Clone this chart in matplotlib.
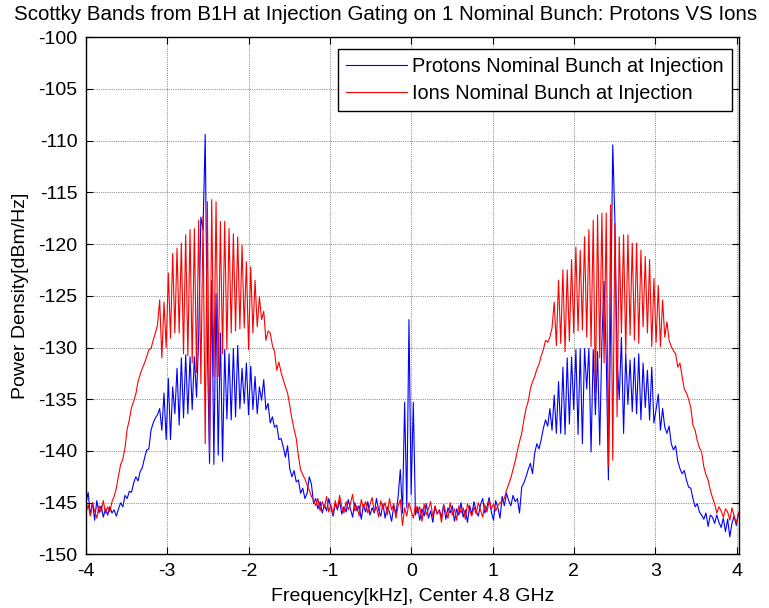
import numpy as np
import matplotlib
matplotlib.use("Agg")
import matplotlib.pyplot as plt

plt.rcParams['font.family'] = ['Liberation Sans', 'DejaVu Sans']
plt.rcParams['axes.unicode_minus'] = False

# spectrum bins, kHz offset from the 4.8 GHz centre
f_start, f_stop, n_bins = -4.0, 4.05, 303
freq_khz = np.linspace(f_start, f_stop, n_bins)

# power density [dBm/Hz], protons, nominal bunch at injection
protons_dbm = [
    -145.1, -144.0, -146.2, -145.0, -146.7, -144.8, -146.0, -145.3, -146.4, -145.6,
    -146.2, -145.4, -146.0, -145.7, -146.3, -145.6, -145.0, -145.4, -144.3, -144.6,
    -143.9, -144.0, -143.1, -142.5, -142.9, -142.0, -141.6, -140.7, -139.9, -139.8,
    -138.0, -137.3, -136.8, -136.5, -135.9, -138.0, -134.4, -138.9, -133.0, -138.9,
    -133.8, -136.4, -132.0, -137.5, -131.0, -136.8, -130.7, -136.4, -130.9, -136.0,
    -130.9, -134.8, -129.0, -117.4, -118.6, -109.4, -129.9, -141.2, -123.5, -141.3,
    -124.8, -140.4, -128.6, -141.0, -130.2, -136.9, -130.6, -137.0, -130.1, -136.7,
    -129.8, -135.9, -132.0, -135.4, -131.5, -136.5, -131.8, -136.0, -132.8, -136.4,
    -133.8, -135.1, -133.1, -136.0, -135.4, -137.3, -136.7, -137.7, -137.5, -138.9,
    -138.8, -139.6, -140.6, -139.5, -141.7, -142.5, -141.9, -143.0, -142.8, -144.1,
    -143.6, -144.6, -144.1, -142.5, -143.2, -145.1, -144.6, -145.6, -144.9, -146.0,
    -145.2, -145.8, -144.6, -145.5, -146.3, -145.1, -145.7, -144.8, -146.1, -145.4,
    -145.9, -144.7, -145.6, -146.4, -145.0, -145.8, -145.3, -146.6, -145.2, -145.9,
    -144.9, -146.2, -145.5, -146.0, -144.6, -145.7, -146.3, -145.1, -146.5, -145.4,
    -145.9, -146.8, -145.3, -146.1, -144.4, -141.8, -146.0, -135.3, -145.5, -127.3,
    -144.2, -135.3, -146.2, -145.4, -146.7, -145.6, -146.3, -145.1, -146.5, -145.8,
    -146.9, -145.4, -146.1, -145.7, -146.4, -145.2, -146.6, -145.5, -146.0, -145.3,
    -146.8, -145.6, -146.2, -145.0, -146.4, -145.7, -146.9, -145.3, -146.1, -144.9,
    -145.8, -146.3, -145.2, -144.6, -146.0, -145.4, -144.5, -145.9, -146.7, -144.8,
    -145.5, -146.5, -144.4, -145.3, -144.1, -144.8, -145.3, -144.3, -144.9, -144.6,
    -146.0, -143.5, -143.1, -142.5, -141.8, -141.2, -142.2, -140.2, -139.3, -139.8,
    -138.9, -137.8, -137.0, -137.6, -135.9, -138.0, -134.6, -138.3, -133.3, -138.3,
    -131.9, -138.4, -131.0, -137.4, -130.9, -136.0, -130.2, -138.4, -130.1, -139.3,
    -130.1, -134.0, -130.1, -140.1, -130.2, -136.5, -130.4, -139.4, -129.3, -123.6,
    -131.0, -142.8, -128.0, -110.4, -117.7, -131.0, -135.0, -129.0, -138.3, -130.6,
    -135.5, -131.2, -136.2, -131.0, -136.4, -130.6, -137.0, -131.5, -135.8, -132.2,
    -137.0, -131.9, -137.3, -136.0, -134.5, -138.0, -135.9, -137.7, -138.3, -137.6,
    -139.3, -139.9, -139.5, -141.0, -141.7, -142.2, -141.9, -142.8, -143.5, -143.6,
    -144.6, -145.4, -145.1, -145.9, -146.2, -146.6, -146.0, -147.3, -146.2, -146.4,
    -147.0, -146.2, -146.9, -147.4, -146.5, -147.8, -146.6, -148.3, -147.0, -146.3,
    -147.2, -146.1, -145.8,
]

# power density [dBm/Hz], ions, nominal bunch at injection
ions_dbm = [
    -146.0, -145.2, -146.3, -145.0, -145.8, -146.5, -145.3, -145.9, -144.8, -146.0,
    -145.4, -145.9, -144.9, -144.4, -143.6, -142.4, -141.3, -140.8, -139.7, -137.9,
    -137.0, -135.8, -135.2, -134.5, -133.3, -132.6, -132.0, -131.5, -130.9, -130.2,
    -130.1, -129.3, -128.6, -127.8, -125.4, -131.0, -125.6, -130.0, -122.8, -129.1,
    -120.9, -128.6, -120.4, -128.6, -119.9, -130.6, -119.1, -130.8, -118.6, -131.5,
    -118.5, -132.4, -117.7, -133.5, -117.3, -139.3, -115.9, -140.2, -115.7, -132.8,
    -115.9, -132.8, -117.8, -130.6, -117.8, -130.2, -118.5, -128.6, -119.0, -128.4,
    -119.3, -128.2, -120.1, -128.1, -121.7, -130.2, -122.2, -128.6, -123.5, -128.0,
    -125.1, -127.3, -126.5, -129.3, -128.4, -128.6, -129.8, -130.4, -132.2, -131.4,
    -132.4, -133.1, -133.8, -134.4, -135.6, -136.9, -137.9, -138.8, -140.5, -141.8,
    -142.3, -142.7, -143.3, -143.8, -144.4, -144.8, -145.3, -144.6, -145.8, -144.9,
    -145.5, -144.4, -145.9, -145.2, -146.1, -144.8, -145.6, -144.3, -145.4, -146.0,
    -144.9, -145.7, -145.1, -144.2, -145.8, -145.3, -146.3, -144.7, -145.5, -144.9,
    -146.0, -145.2, -144.5, -145.9, -145.4, -146.4, -144.8, -145.6, -145.0, -146.2,
    -144.6, -145.7, -145.1, -146.5, -145.3, -144.7, -147.2, -145.5, -146.3, -145.0,
    -145.8, -146.5, -145.2, -146.0, -145.4, -146.8, -145.1, -146.2, -145.6, -144.9,
    -146.4, -145.3, -146.1, -145.7, -146.9, -145.2, -145.9, -146.5, -145.0, -146.2,
    -145.6, -146.7, -145.3, -146.0, -145.5, -146.6, -145.1, -145.8, -146.3, -145.4,
    -146.1, -145.0, -145.7, -146.4, -145.2, -145.9, -144.8, -145.6, -145.1, -145.8,
    -145.3, -145.0, -144.9, -144.6, -143.8, -143.2, -142.6, -141.8, -141.0, -140.0,
    -139.1, -138.3, -137.0, -135.9, -135.2, -134.0, -133.3, -132.8, -132.1, -131.6,
    -130.8, -130.2, -129.3, -129.5, -129.0, -128.1, -125.6, -129.8, -123.5, -129.6,
    -122.5, -130.4, -122.5, -129.4, -121.5, -128.6, -120.3, -128.4, -120.6, -128.3,
    -119.3, -129.0, -118.6, -129.9, -117.7, -134.8, -117.2, -131.0, -117.0, -131.5,
    -117.0, -141.5, -116.2, -140.9, -118.0, -136.7, -119.3, -128.6, -119.1, -130.6,
    -119.1, -128.8, -119.9, -129.3, -119.9, -129.6, -120.6, -128.0, -121.2, -128.6,
    -121.5, -129.9, -123.3, -129.5, -124.0, -129.9, -125.4, -129.0, -127.5, -129.3,
    -129.9, -130.3, -130.6, -131.9, -131.5, -132.8, -134.0, -134.4, -135.0, -135.8,
    -137.5, -138.0, -139.0, -139.7, -140.1, -141.5, -142.3, -142.8, -143.8, -144.5,
    -145.1, -146.0, -145.4, -145.8, -146.4, -145.6, -145.9, -146.7, -145.5, -146.3,
    -147.0, -146.0, -145.6,
]

x_ticks = [-4, -3, -2, -1, 0, 1, 2, 3, 4]
y_ticks = [-150, -145, -140, -135, -130, -125, -120, -115, -110, -105, -100]

fig = plt.figure(figsize=(7.69, 6.08), dpi=100)
ax = fig.add_axes([0.1118, 0.0882, 0.8492, 0.8505])

ax.plot(freq_khz, protons_dbm, color=(0, 0, 1), lw=0.8,
        label='Protons Nominal Bunch at Injection')
ax.plot(freq_khz, ions_dbm, color=(1, 0, 0), lw=0.8,
        label='Ions Nominal Bunch at Injection')

ax.set_xlim(-4, 4.03)
ax.set_ylim(-150, -100)
ax.set_xticks(x_ticks)
ax.set_yticks(y_ticks)
ax.tick_params(direction='in', top=True, right=True, length=5, width=0.8,
               labelsize=14)
ax.tick_params(axis='x', pad=6)
ax.tick_params(axis='y', pad=6)
ax.grid(True, color='k', linestyle=':', lw=0.5, alpha=0.8)
for sp in ax.spines.values():
    sp.set_linewidth(1.0)

fig.text(386 / 769, 1 - 15 / 608,
         'Scottky Bands from B1H at Injection Gating on 1 Nominal Bunch: Protons VS Ions',
         ha='center', va='center', fontsize=14.8)
ax.set_xlabel('Frequency[kHz], Center 4.8 GHz', fontsize=14, labelpad=6)
ax.set_ylabel('Power Density[dBm/Hz]', fontsize=14, labelpad=7)

leg = ax.legend(loc='upper right', bbox_to_anchor=(0.989, 0.977), borderaxespad=0,
                fontsize=14.3, handlelength=3.1, handletextpad=0.25,
                labelspacing=0.4, borderpad=0.4, fancybox=False, framealpha=1)
leg.get_frame().set_edgecolor('k')
leg.get_frame().set_linewidth(1.0)

fig.savefig('out.png', dpi=100)
